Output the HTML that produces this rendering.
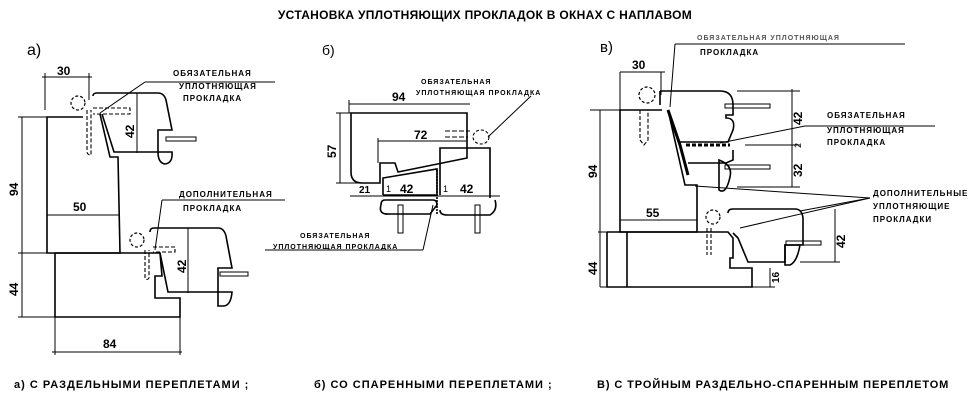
<!DOCTYPE html>
<html><head><meta charset="utf-8"><style>
html,body{margin:0;padding:0;background:#fff;}
svg{display:block}
text{font-family:"Liberation Sans","DejaVu Sans",sans-serif;fill:#000}
.t{font-size:8px;font-weight:bold;letter-spacing:1px}
.d{font-size:12px;font-weight:bold}
</style></head><body>
<svg width="970" height="408" viewBox="0 0 970 408" xmlns="http://www.w3.org/2000/svg">
<g fill="none" stroke="#000" stroke-width="1.6">
<!-- PANEL A -->
<path d="M100,114 L110,157 H118 L120,253 H47 V117 H83"/>
<line x1="47" y1="215" x2="120" y2="215" stroke-width="1"/>
<path d="M55,253 V317 H180 V298 H155 V276 H162 L160,253 H150"/>
<line x1="55" y1="253" x2="150" y2="253"/>
<line x1="55" y1="317" x2="55" y2="355" stroke-width="1"/>
<line x1="180" y1="317" x2="180" y2="355" stroke-width="1"/>
<line x1="52" y1="352" x2="182" y2="352" stroke-width="1"/>
<line x1="22" y1="117" x2="22" y2="317" stroke-width="1"/>
<line x1="18" y1="117" x2="47" y2="117" stroke-width="1"/>
<line x1="18" y1="253" x2="55" y2="253" stroke-width="1"/>
<line x1="18" y1="317" x2="55" y2="317" stroke-width="1"/>
<line x1="42" y1="77" x2="92" y2="77" stroke-width="1"/>
<line x1="45" y1="73" x2="45" y2="110" stroke-width="1"/>
<line x1="89" y1="73" x2="89" y2="100" stroke-width="1"/>
<!-- upper sash a -->
<path d="M93,96 Q93,93 97,93 H158 Q164,93 166,100 L172,130 H158 V152 H114 L102,114"/>
<path d="M158,152 H172 Q173,163 165,164 Q158,163 158,152"/>
<rect x="166" y="137" width="30" height="4" stroke-width="1"/>
<line x1="137" y1="93" x2="137" y2="153" stroke-width="1"/>
<circle cx="78" cy="103" r="7" stroke-dasharray="3,2" stroke-width="1.2"/>
<path d="M87,110 V151 Q87,155 91,155 V110 M93,108 H130 V114 H93" stroke-dasharray="4,2" stroke-width="1.1"/>
<line x1="100" y1="113" x2="145" y2="82" stroke-width="1"/>
<line x1="145" y1="82" x2="275" y2="82" stroke-width="1"/>
<!-- lower sash a -->
<path d="M150,232 Q150,228 154,228 H218 Q224,228 226,236 L232,268 H218 V292 H168 L160,253"/>
<path d="M218,292 H232 Q231,305 224,306 L218,306 Z"/>
<rect x="220" y="272" width="28" height="4" stroke-width="1"/>
<line x1="188" y1="228" x2="188" y2="293" stroke-width="1"/>
<circle cx="137" cy="240" r="7" stroke-dasharray="3,2" stroke-width="1.2"/>
<path d="M145,250 V278 Q147,281 149,278 V250 M153,247 H175 V252 H153" stroke-dasharray="4,2" stroke-width="1.1"/>
<line x1="155" y1="250" x2="162" y2="200" stroke-width="1"/>
<line x1="162" y1="200" x2="285" y2="200" stroke-width="1"/>

<!-- PANEL B -->
<path d="M351,113 H467 V158 L398,172 L395,163 H380 V183 H362 Q351,183 351,172 Z"/>
<path d="M383,195 V178 L437,169 V195 M383,195 H437"/>
<path d="M381,205 Q378,215 390,214 H430 L437,205 Q437,200 433,200 H385 Q381,200 381,205"/>
<path d="M440,195 V148 H490 V198 M440,210 Q440,215 447,215 H490 Q498,210 495,200"/>
<line x1="437" y1="170" x2="437" y2="215" stroke-dasharray="2,1"/>
<rect x="398" y="205" width="5" height="28" stroke-width="1"/>
<rect x="475" y="205" width="5" height="28" stroke-width="1"/>
<ellipse cx="481" cy="137" rx="8" ry="7" stroke-dasharray="3,2" stroke-width="1.1"/>
<path d="M445,131 H470 M445,137 H468" stroke-dasharray="5,2" stroke-width="1.1"/>
<line x1="349" y1="104" x2="470" y2="104" stroke-width="1"/>
<line x1="349" y1="100" x2="349" y2="113" stroke-width="1"/>
<line x1="378" y1="141" x2="467" y2="141" stroke-width="1"/>
<line x1="378" y1="138" x2="378" y2="163" stroke-width="1"/>
<line x1="340" y1="113" x2="340" y2="183" stroke-width="1"/>
<line x1="336" y1="113" x2="351" y2="113" stroke-width="1"/>
<line x1="336" y1="183" x2="360" y2="183" stroke-width="1"/>
<line x1="350" y1="196" x2="500" y2="196" stroke-width="1"/>
<line x1="488" y1="137" x2="531" y2="96" stroke-width="1"/>
<line x1="433" y1="205" x2="423" y2="250" stroke-width="1"/>
<line x1="423" y1="250" x2="265" y2="250" stroke-width="1"/>

<!-- PANEL V -->
<path d="M668,110 L685,185 H697 V232 H620 V110 H662"/>
<line x1="620" y1="220" x2="697" y2="220" stroke-width="1"/>
<path d="M607,232 V287 H752 V268 H730 V258 H733 L733,238 L728,232 H607"/>
<line x1="627" y1="232" x2="627" y2="287"/>
<!-- upper sash stack -->
<path d="M660,91 V105 M660,91 H720 Q733,91 733,105 V115 H726 V118 Q736,118 733,130 L728,142 H680 M733,150 V160 L726,163 H688"/>
<path d="M719,160 Q733,165 730,177 Q726,195 719,190 Z"/>
<path d="M668,110 L680,145 L688,175" stroke-width="3"/>
<line x1="686" y1="145" x2="730" y2="145" stroke-width="3" stroke-dasharray="4,2"/>
<rect x="725" y="104" width="45" height="4" stroke-width="1"/>
<rect x="725" y="165" width="45" height="4" stroke-width="1"/>
<path d="M728,213 Q728,209 733,209 H795 Q802,209 803,218 V245 H785 V262 H748 L738,238 L733,233"/>
<path d="M785,245 H800 Q797,262 790,265 L785,265 Z"/>
<rect x="786" y="241" width="35" height="4" stroke-width="1"/>
<circle cx="647" cy="95" r="8" stroke-dasharray="3,2" stroke-width="1.2"/>
<circle cx="713" cy="217" r="7" stroke-dasharray="3,2" stroke-width="1.2"/>
<path d="M640,110 V140 L644,145 L648,140 V110" stroke-dasharray="4,2" stroke-width="1.1"/>
<path d="M707,228 V255 M711,228 V255" stroke-dasharray="4,2" stroke-width="1.1"/>
<line x1="590" y1="110" x2="620" y2="110" stroke-width="1"/>
<line x1="600" y1="110" x2="600" y2="287" stroke-width="1"/>
<line x1="598" y1="232" x2="607" y2="232" stroke-width="1"/>
<line x1="600" y1="287" x2="775" y2="287" stroke-width="1"/>
<line x1="620" y1="72" x2="665" y2="72" stroke-width="1"/>
<line x1="620" y1="72" x2="620" y2="110" stroke-width="1"/>
<line x1="661" y1="72" x2="661" y2="95" stroke-width="1"/>
<line x1="737" y1="91" x2="800" y2="91" stroke-width="1"/>
<line x1="792" y1="89" x2="792" y2="187" stroke-width="1"/>
<line x1="737" y1="187" x2="800" y2="187" stroke-width="1"/>
<line x1="745" y1="145" x2="800" y2="145" stroke-width="1"/>
<line x1="835" y1="209" x2="835" y2="262" stroke-width="1"/>
<line x1="800" y1="262" x2="840" y2="262" stroke-width="1"/>
<line x1="770" y1="268" x2="770" y2="287" stroke-width="1"/>
<line x1="675" y1="44" x2="670" y2="107" stroke-width="1"/>
<line x1="675" y1="44" x2="905" y2="44" stroke-width="1"/>
<line x1="720" y1="143" x2="805" y2="126" stroke-width="1"/>
<line x1="805" y1="126" x2="935" y2="126" stroke-width="1"/>
<line x1="695" y1="186" x2="870" y2="198" stroke-width="1"/>
<line x1="740" y1="228" x2="870" y2="198" stroke-width="1"/>
<line x1="800" y1="211" x2="870" y2="198" stroke-width="1"/>
</g>

<text x="485" y="19" text-anchor="middle" style="font-size:12px;font-weight:bold;letter-spacing:0.3px">УСТАНОВКА УПЛОТНЯЮЩИХ ПРОКЛАДОК В ОКНАХ С НАПЛАВОМ</text>
<text x="27" y="55" style="font-size:16px">а)</text>
<text x="322" y="55" style="font-size:14px">б)</text>
<text x="600" y="52" style="font-size:15px">в)</text>

<text class="d" x="57" y="75">30</text>
<text class="d" x="73" y="211">50</text>
<text class="d" x="103" y="348">84</text>
<text class="d" transform="translate(18,196) rotate(-90)">94</text>
<text class="d" transform="translate(18,296) rotate(-90)">44</text>
<text class="d" transform="translate(134,138) rotate(-90)">42</text>
<text class="d" transform="translate(186,273) rotate(-90)">42</text>
<text class="t" x="173" y="76">ОБЯЗАТЕЛЬНАЯ</text>
<text class="t" x="179" y="89">УПЛОТНЯЮЩАЯ</text>
<text class="t" x="183" y="101">ПРОКЛАДКА</text>
<text class="t" x="179" y="197">ДОПОЛНИТЕЛЬНАЯ</text>
<text class="t" x="183" y="211">ПРОКЛАДКА</text>

<text class="d" x="392" y="101">94</text>
<text class="d" x="414" y="139">72</text>
<text class="d" transform="translate(336,158) rotate(-90)">57</text>
<text style="font-size:10px;font-weight:bold" x="359" y="193">21</text>
<text class="d" x="400" y="193">42</text>
<text class="d" x="460" y="193">42</text>
<text style="font-size:9px" x="386" y="192">1</text>
<text style="font-size:9px" x="443" y="192">1</text>
<text class="t" x="421" y="84" style="font-size:7px">ОБЯЗАТЕЛЬНАЯ</text>
<text class="t" x="416" y="95" style="font-size:7px">УПЛОТНЯЮЩАЯ ПРОКЛАДКА</text>
<text class="t" x="300" y="238" style="font-size:7px">ОБЯЗАТЕЛЬНАЯ</text>
<text class="t" x="273" y="249" style="font-size:7px">УПЛОТНЯЮЩАЯ ПРОКЛАДКА</text>

<text class="d" x="632" y="69">30</text>
<text class="d" x="646" y="217">55</text>
<text class="d" transform="translate(597,178) rotate(-90)">94</text>
<text class="d" transform="translate(597,275) rotate(-90)">44</text>
<text class="d" transform="translate(802,125) rotate(-90)">42</text>
<text class="d" transform="translate(802,177) rotate(-90)">32</text>
<text style="font-size:9px" transform="translate(801,148) rotate(-90)">2</text>
<text class="d" transform="translate(845,248) rotate(-90)">42</text>
<text style="font-size:10px;font-weight:bold" transform="translate(779,283) rotate(-90)">16</text>
<text class="t" x="697" y="40" style="font-size:7px;fill:#555">ОБЯЗАТЕЛЬНАЯ УПЛОТНЯЮЩАЯ</text>
<text class="t" x="700" y="55">ПРОКЛАДКА</text>
<text class="t" x="827" y="118">ОБЯЗАТЕЛЬНАЯ</text>
<text class="t" x="827" y="133">УПЛОТНЯЮЩАЯ</text>
<text class="t" x="827" y="145">ПРОКЛАДКА</text>
<text class="t" x="873" y="196">ДОПОЛНИТЕЛЬНЫЕ</text>
<text class="t" x="873" y="209">УПЛОТНЯЮЩИЕ</text>
<text class="t" x="873" y="222">ПРОКЛАДКИ</text>

<text x="14" y="388" style="font-size:11px;font-weight:bold;letter-spacing:1px">а) С РАЗДЕЛЬНЫМИ ПЕРЕПЛЕТАМИ ;</text>
<text x="314" y="388" style="font-size:11px;font-weight:bold;letter-spacing:1px">б) СО СПАРЕННЫМИ ПЕРЕПЛЕТАМИ ;</text>
<text x="597" y="388" style="font-size:11px;font-weight:bold;letter-spacing:0.9px">В) С ТРОЙНЫМ РАЗДЕЛЬНО-СПАРЕННЫМ ПЕРЕПЛЕТОМ</text>
</svg>
</body></html>
